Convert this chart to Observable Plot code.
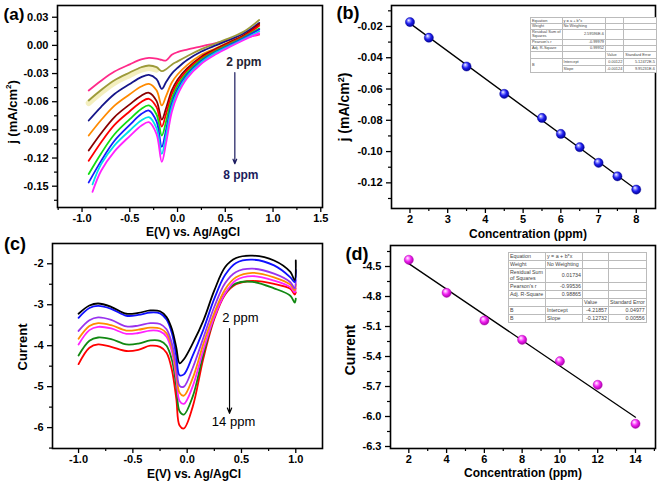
<!DOCTYPE html>
<html><head><meta charset="utf-8">
<script src="https://cdn.jsdelivr.net/npm/d3@7"></script>
<script src="https://cdn.jsdelivr.net/npm/@observablehq/plot@0.6"></script>
<style>
body{margin:0;background:#fff;font-family:"Liberation Sans",Arial,sans-serif;}
#root{position:relative;width:657px;height:482px;overflow:hidden;background:#fff;}
.panel{position:absolute;}
.lbl{position:absolute;font-weight:bold;color:#000;white-space:nowrap;transform:translate(-50%,-50%);}
.rot{transform:translate(-50%,-50%) rotate(-90deg);}
.plab{position:absolute;font-weight:bold;font-size:18px;color:#000;transform:translate(-50%,-50%);}
table.st{position:absolute;border-collapse:collapse;table-layout:fixed;background:#fff;color:#444;font-family:Arial,"Liberation Sans",sans-serif;border:0.8px solid #777;}
table.st td{border:0.5px solid #bbb;padding:0 1px;line-height:1;white-space:nowrap;overflow:hidden;vertical-align:middle;}
table.st td.r{text-align:right;}
</style></head><body><div id="root"></div>
<script>
// ---------- Panel (a) data ----------
const A_X = [-0.93, -0.8, -0.66, -0.5, -0.38, -0.3, -0.22, -0.165, -0.12, -0.06, 0, 0.1, 0.25, 0.4, 0.55, 0.7, 0.855];
const A_START = [-0.93, -0.93, -0.93, -0.93, -0.93, -0.93, -0.93, -0.93, -0.89, -0.89];
const A_CONC = ["2", "2.5", "3.5", "4.5", "5.5", "6", "6.5", "7", "7.5", "8"];
const A_COLORS = ["#ff2a8a", "#9c9a3a", "#16168a", "#ff8a00", "#8a0000", "#ff0000", "#11dd11", "#1a1aff", "#00e0e8", "#ff22ff"];
const A_Y = [
  [-0.048, -0.0376, -0.0279, -0.0202, -0.0150, -0.0133, -0.0141, -0.0155, -0.0161, -0.0100, -0.0072, -0.0045, -0.0010, 0.0025, 0.0055, 0.0080, 0.0115],
  [-0.0587, -0.0475, -0.0371, -0.0289, -0.0233, -0.0214, -0.0232, -0.0275, -0.0255, -0.0205, -0.0170, -0.0115, -0.0040, 0.0020, 0.0080, 0.0150, 0.0270],
  [-0.0800, -0.0654, -0.0518, -0.0411, -0.0338, -0.0314, -0.0359, -0.0463, -0.0390, -0.0300, -0.0240, -0.0155, -0.0065, 0.0000, 0.0060, 0.0130, 0.0240],
  [-0.0960, -0.0795, -0.0641, -0.0520, -0.0438, -0.0410, -0.0479, -0.0640, -0.0540, -0.0395, -0.0310, -0.0210, -0.0100, -0.0030, 0.0040, 0.0110, 0.0220],
  [-0.1120, -0.0936, -0.0763, -0.0628, -0.0536, -0.0505, -0.0591, -0.0790, -0.0670, -0.0480, -0.0365, -0.0245, -0.0120, -0.0040, 0.0035, 0.0110, 0.0230],
  [-0.1230, -0.1031, -0.0846, -0.0701, -0.0602, -0.0569, -0.0658, -0.0865, -0.0730, -0.0520, -0.0395, -0.0265, -0.0135, -0.0050, 0.0025, 0.0100, 0.0210],
  [-0.1370, -0.1151, -0.0947, -0.0786, -0.0677, -0.0640, -0.0736, -0.0960, -0.0810, -0.0570, -0.0430, -0.0290, -0.0150, -0.0060, 0.0015, 0.0090, 0.0180],
  [-0.1460, -0.1230, -0.1016, -0.0847, -0.0732, -0.0694, -0.0810, -0.1080, -0.0900, -0.0620, -0.0465, -0.0310, -0.0165, -0.0070, 0.0005, 0.0080, 0.0170],
  [-0.1480, -0.1265, -0.1065, -0.0907, -0.0800, -0.0764, -0.0882, -0.1155, -0.0960, -0.0660, -0.0495, -0.0330, -0.0180, -0.0080, -0.0005, 0.0070, 0.0150],
  [-0.1560, -0.1336, -0.1129, -0.0966, -0.0855, -0.0818, -0.0945, -0.1240, -0.1040, -0.0710, -0.0530, -0.0350, -0.0195, -0.0095, -0.0015, 0.0060, 0.0130]
];
const A_XTICKS = [-1, -0.5, 0, 0.5, 1, 1.5];
const A_XMINOR = [-1.25, -0.75, -0.25, 0.25, 0.75, 1.25];
const A_YTICKS = [0.03, 0, -0.03, -0.06, -0.09, -0.12, -0.15];
const A_YMINOR = [0.015, -0.015, -0.045, -0.075, -0.105, -0.135, -0.165];

// ---------- Panel (b) data ----------
const B_X = [2, 2.5, 3.5, 4.5, 5.5, 6, 6.5, 7, 7.5, 8];
const B_Y = [-0.0172, -0.0272, -0.0456, -0.0631, -0.0785, -0.0887, -0.0972, -0.1072, -0.1158, -0.1243];
const B_XTICKS = [2, 3, 4, 5, 6, 7, 8];
const B_XMINOR = [2.5, 3.5, 4.5, 5.5, 6.5, 7.5];
const B_YTICKS = [-0.02, -0.04, -0.06, -0.08, -0.10, -0.12];
const B_YMINOR = [-0.01, -0.03, -0.05, -0.07, -0.09, -0.11, -0.13];
const B_TABLE = [
  ["Equation", "y = a + b*x", "", ""],
  ["Weight", "No Weighting", "", ""],
  ["Residual Sum of|Squares", "2.59596E-6", "", ""],
  ["Pearson's r", "-0.99979", "", ""],
  ["Adj. R-Square", "0.99952", "", ""],
  ["", "", "Value", "Standard Error"],
  ["B", "Intercept", "0.00122", "5.12472E-5"],
  ["", "Slope", "-0.00124", "9.95231E-6"]
];

// ---------- Panel (c) data ----------
const C_X = [-1.0, -0.9, -0.82, -0.7, -0.56, -0.45, -0.34, -0.25, -0.19, -0.14, -0.1, -0.07, -0.03, 0.05, 0.15, 0.25, 0.35, 0.45, 0.6, 0.8, 0.95, 0.99, 1.0];
const C_CONC = ["2", "4", "6", "8", "10", "12", "14"];
const C_COLORS = ["#000000", "#1010ff", "#9933ee", "#ff8c00", "#ff22ff", "#118811", "#ff0000"];
const C_Y = [
  [-3.22, -3.02, -2.97, -3.05, -3.22, -3.20, -3.14, -3.16, -3.30, -3.60, -4.05, -4.43, -4.33, -3.95, -3.38, -2.65, -2.08, -1.86, -1.80, -1.92, -2.20, -2.40, -1.92],
  [-3.32, -3.08, -3.03, -3.10, -3.27, -3.25, -3.19, -3.21, -3.36, -3.70, -4.25, -4.72, -4.70, -4.25, -3.60, -2.85, -2.27, -1.98, -1.90, -2.04, -2.33, -2.45, -2.15],
  [-3.64, -3.38, -3.31, -3.37, -3.53, -3.51, -3.45, -3.47, -3.60, -3.95, -4.50, -4.98, -5.00, -4.55, -3.80, -3.05, -2.47, -2.20, -2.12, -2.24, -2.45, -2.60, -2.40],
  [-3.83, -3.52, -3.45, -3.50, -3.63, -3.61, -3.56, -3.58, -3.70, -4.05, -4.65, -5.15, -5.22, -4.80, -3.95, -3.20, -2.62, -2.33, -2.22, -2.33, -2.51, -2.65, -2.50],
  [-3.97, -3.62, -3.54, -3.58, -3.71, -3.69, -3.63, -3.65, -3.78, -4.15, -4.80, -5.35, -5.42, -5.00, -4.10, -3.30, -2.72, -2.40, -2.30, -2.41, -2.57, -2.70, -2.60],
  [-4.24, -3.88, -3.80, -3.84, -3.97, -3.95, -3.87, -3.88, -4.00, -4.35, -5.00, -5.60, -5.68, -5.25, -4.20, -3.30, -2.72, -2.48, -2.44, -2.60, -2.78, -2.95, -2.85],
  [-4.45, -4.05, -3.97, -4.03, -4.13, -4.10, -4.00, -4.03, -4.17, -4.60, -5.30, -5.95, -6.02, -5.50, -4.30, -3.35, -2.75, -2.50, -2.42, -2.49, -2.61, -2.75, -2.70]
];
const C_XTICKS = [-1, -0.5, 0, 0.5, 1];
const C_XMINOR = [-0.75, -0.25, 0.25, 0.75];
const C_YTICKS = [-2, -3, -4, -5, -6];
const C_YMINOR = [-2.5, -3.5, -4.5, -5.5, -6.5];

// ---------- Panel (d) data ----------
const D_X = [2, 4, 6, 8, 10, 12, 14];
const D_Y = [-4.433, -4.763, -5.04, -5.233, -5.447, -5.683, -6.073];
const D_XTICKS = [2, 4, 6, 8, 10, 12, 14];
const D_XMINOR = [3, 5, 7, 9, 11, 13, 15];
const D_YTICKS = [-4.5, -4.8, -5.1, -5.4, -5.7, -6.0, -6.3];
const D_YMINOR = [-4.35, -4.65, -4.95, -5.25, -5.55, -5.85, -6.15];
const D_TABLE = [
  ["Equation", "y = a + b*x", "", ""],
  ["Weight", "No Weighting", "", ""],
  ["Residual Sum|of Squares", "0.01734", "", ""],
  ["Pearson's r", "-0.99536", "", ""],
  ["Adj. R-Square", "0.98865", "", ""],
  ["", "", "Value", "Standard Error"],
  ["B", "Intercept", "-4.21857", "0.04977"],
  ["B", "Slope", "-0.12732", "0.00556"]
];

// ---------- helpers ----------
const root = document.getElementById("root");
const STYLE = {fontFamily: '"Liberation Sans", Arial, sans-serif', fontSize: "11px", fontWeight: "bold", color: "#000", background: "transparent", overflow: "visible"};

function axes(xt, xm, yt, ym, fx, fy) {
  return [
    Plot.axisX({ticks: xt, tickFormat: fx, tickSize: 5, tickPadding: 2, strokeWidth: 1.3, label: null}),
    Plot.axisX({ticks: xm, tickFormat: () => "", tickSize: 3, strokeWidth: 1.2, label: null}),
    Plot.axisY({ticks: yt, tickFormat: fy, tickSize: 5, tickPadding: 4, strokeWidth: 1.3, label: null}),
    Plot.axisY({ticks: ym, tickFormat: () => "", tickSize: 3, strokeWidth: 1.2, label: null}),
    Plot.frame({stroke: "#000", strokeWidth: 1.6})
  ];
}
function place(el, left, top) {
  const d = document.createElement("div");
  d.className = "panel"; d.style.left = left + "px"; d.style.top = top + "px";
  d.appendChild(el); root.appendChild(d);
}
function label(html, cx, cy, size, rot, cls) {
  const d = document.createElement("div");
  d.className = (cls || "lbl") + (rot ? " rot" : "");
  d.style.left = cx + "px"; d.style.top = cy + "px"; d.style.fontSize = size + "px";
  d.innerHTML = html; root.appendChild(d);
}
function addGrad(svg, id, stops) {
  const ns = "http://www.w3.org/2000/svg";
  const defs = document.createElementNS(ns, "defs");
  const g = document.createElementNS(ns, "radialGradient");
  g.setAttribute("id", id);
  g.setAttribute("cx", "0.45"); g.setAttribute("cy", "0.42"); g.setAttribute("r", "0.6");
  g.setAttribute("fx", "0.35"); g.setAttribute("fy", "0.3");
  stops.forEach(([o, c]) => { const s = document.createElementNS(ns, "stop"); s.setAttribute("offset", o); s.setAttribute("stop-color", c); g.appendChild(s); });
  defs.appendChild(g); svg.insertBefore(defs, svg.firstChild);
}
function table(rows, left, top, colW, rowH, fs, mergeB) {
  const t = document.createElement("table");
  t.className = "st";
  t.style.left = left + "px"; t.style.top = top + "px";
  t.style.fontSize = fs + "px";
  const cg = document.createElement("colgroup");
  colW.forEach(w => { const c = document.createElement("col"); c.style.width = w + "px"; cg.appendChild(c); });
  t.appendChild(cg);
  rows.forEach((r, i) => {
    const tr = document.createElement("tr");
    tr.style.height = rowH[i] + "px";
    r.forEach((v, j) => {
      if (mergeB && i === rows.length - 1 && j === 0) return;
      const td = document.createElement("td");
      if (mergeB && i === rows.length - 2 && j === 0) td.rowSpan = 2;
      const parts = v.split("|");
      parts.forEach((p, k) => { if (k) td.appendChild(document.createElement("br")); td.appendChild(document.createTextNode(p)); });
      if ((j === 1 && i >= 2 && i <= 4) || (j >= 2 && i >= 6)) td.className = "r";
      tr.appendChild(td);
    });
    t.appendChild(tr);
  });
  root.appendChild(t);
}

// ---------- Panel (a) ----------
const aRows = [];
A_Y.forEach((ys, i) => ys.forEach((y, j) => aRows.push({x: j === 0 ? A_START[i] : A_X[j], y, s: A_CONC[i], c: A_COLORS[i]})));
const pa = Plot.plot({
  width: 330, height: 240, marginLeft: 57, marginRight: 8, marginTop: 5, marginBottom: 33,
  x: {domain: [-1.257, 1.518]}, y: {domain: [-0.1727, 0.0425]},
  color: {type: "identity"}, style: STYLE,
  marks: [
    Plot.line(aRows.filter(d => d.s === "2.5" && d.x <= -0.2), {x: "x", y: "y", stroke: "#f4efbf", strokeWidth: 6, dy: 2.5, curve: "catmull-rom"}),
    Plot.line(aRows, {x: "x", y: "y", z: "s", stroke: "c", strokeWidth: 1.8, curve: "catmull-rom"}),
    Plot.arrow([{x1: 0.6, y1: -0.029, x2: 0.6, y2: -0.126}], {x1: "x1", y1: "y1", x2: "x2", y2: "y2", stroke: "#1a1a5e", strokeWidth: 1.2, headLength: 6, headAngle: 45}),
    Plot.text([{x: 0.694, y: -0.0182, t: "2 ppm"}], {x: "x", y: "y", text: "t", fontSize: 12, fontWeight: "bold", fill: "#222233"}),
    Plot.text([{x: 0.663, y: -0.1386, t: "8 ppm"}], {x: "x", y: "y", text: "t", fontSize: 12, fontWeight: "bold", fill: "#1c1c5c"}),
    ...axes(A_XTICKS, A_XMINOR, A_YTICKS, A_YMINOR, d => d.toFixed(1), d => d.toFixed(2))
  ]
});
place(pa, 0, 0);

// ---------- Panel (b) ----------
const bRows = B_X.map((x, i) => ({x, y: B_Y[i]}));
const pb = Plot.plot({
  width: 327, height: 240, marginLeft: 61, marginRight: 2, marginTop: 5, marginBottom: 32,
  x: {domain: [1.51, 8.51]}, y: {domain: [-0.1364, -0.0066]},
  style: STYLE,
  marks: [
    Plot.linearRegressionY(bRows, {x: "x", y: "y", stroke: "#000", strokeWidth: 1.3, ci: 0}),
    Plot.dot(bRows, {x: "x", y: "y", r: 4.6, fill: "url(#gradBlue)", stroke: "#0000a0", strokeWidth: 0.4}),
    ...axes(B_XTICKS, B_XMINOR, B_YTICKS, B_YMINOR, d => String(d), d => d.toFixed(2))
  ]
});
addGrad(pb, "gradBlue", [["0%", "#ffffff"], ["22%", "#9a9aff"], ["55%", "#2020f0"], ["100%", "#00008a"]]);
place(pb, 330, 0);

// ---------- Panel (c) ----------
const cRows = [];
C_Y.forEach((ys, i) => ys.forEach((y, j) => cRows.push({x: C_X[j], y, s: C_CONC[i], c: C_COLORS[i], o: i === 6 ? 0 : (i === 5 ? 1 : 7 - i)})));
cRows.sort((a, b) => a.o - b.o);
const pc = Plot.plot({
  width: 330, height: 242, marginLeft: 52, marginRight: 8, marginTop: 3, marginBottom: 34,
  x: {domain: [-1.24, 1.246]}, y: {domain: [-6.51, -1.505]},
  color: {type: "identity"}, style: STYLE,
  marks: [
    Plot.line(cRows, {x: "x", y: "y", z: "s", stroke: "c", strokeWidth: 1.8, curve: "catmull-rom"}),
    Plot.arrow([{x1: 0.39, y1: -3.58, x2: 0.39, y2: -5.65}], {x1: "x1", y1: "y1", x2: "x2", y2: "y2", stroke: "#000", strokeWidth: 1.2, headLength: 7, headAngle: 45}),
    Plot.text([{x: 0.49, y: -3.31, t: "2 ppm"}], {x: "x", y: "y", text: "t", fontSize: 13, fontWeight: "normal", fill: "#000"}),
    Plot.text([{x: 0.427, y: -5.87, t: "14 ppm"}], {x: "x", y: "y", text: "t", fontSize: 13, fontWeight: "normal", fill: "#000"}),
    ...axes(C_XTICKS, C_XMINOR, C_YTICKS, C_YMINOR, d => d.toFixed(1), d => String(d))
  ]
});
place(pc, 0, 240);

// ---------- Panel (d) ----------
const dRows = D_X.map((x, i) => ({x, y: D_Y[i]}));
const pd = Plot.plot({
  width: 327, height: 242, marginLeft: 60, marginRight: 2, marginTop: 5, marginBottom: 34,
  x: {domain: [1.03, 15.06]}, y: {domain: [-6.32, -4.29]},
  style: STYLE,
  marks: [
    Plot.linearRegressionY(dRows, {x: "x", y: "y", stroke: "#000", strokeWidth: 1.3, ci: 0}),
    Plot.dot(dRows, {x: "x", y: "y", r: 4.6, fill: "url(#gradMag)", stroke: "#b000b0", strokeWidth: 0.4}),
    ...axes(D_XTICKS, D_XMINOR, D_YTICKS, D_YMINOR, d => String(d), d => d.toFixed(1))
  ]
});
addGrad(pd, "gradMag", [["0%", "#ffffff"], ["22%", "#ffa0ff"], ["55%", "#f020f0"], ["100%", "#a000a0"]]);
place(pd, 330, 240);

// ---------- tables ----------
table(B_TABLE, 530, 17, [25, 45, 18, 33], [6, 5.5, 10, 6, 6, 7, 7, 7], 3.9, true);
table(D_TABLE, 508, 252, [37, 37, 26, 37], [8, 8, 14, 8, 8, 8, 8, 8], 5.3, false);

// ---------- titles & labels ----------
label("E(V) vs. Ag/AgCl", 193, 232, 12);
label("j (mA/cm<sup style='font-size:8px'>2</sup>)", 12, 112, 13, true);
label("Concentration (ppm)", 528, 234, 12);
label("j (mA/cm<sup style='font-size:9px'>2</sup>)", 344, 107, 14, true);
label("E(V) vs. Ag/AgCl", 194, 474, 12);
label("Current", 22, 347, 13, true);
label("Concentration (ppm)", 523, 473, 12);
label("Current", 350, 350, 14, true);
label("(a)", 14, 15, 17, false, "plab");
label("(b)", 348, 13, 18, false, "plab");
label("(c)", 15, 244, 18, false, "plab");
label("(d)", 357, 254, 18, false, "plab");
</script></body></html>
